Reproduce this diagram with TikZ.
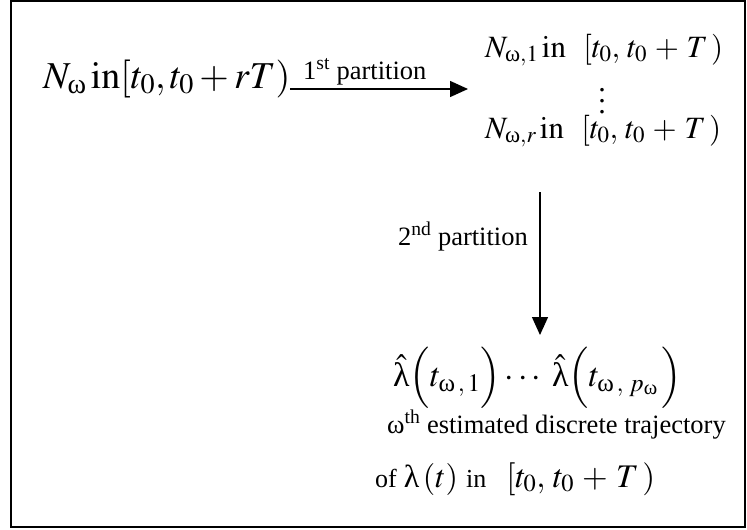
\documentclass[tikz,border=0pt]{standalone}
\usepackage{amsmath}
\usepackage{mathptmx}
\usepackage[no-math]{fontspec}
\setmainfont{Liberation Serif}
\usetikzlibrary{arrows.meta}
\newcommand{\gom}{\text{\normalfont ω}}
\newcommand{\glam}{\text{\normalfont λ}}
\newcommand{\tallvdots}{\vbox{\baselineskip=11pt\lineskiplimit=0pt\hbox{.}\hbox{.}\hbox{.}}}
\newcommand{\fsz}[1]{\fontsize{#1}{#1}\selectfont}
\tikzset{
  x=1pt, y=-1pt,
  mathbig/.style={inner sep=0pt, font=\fontsize{38}{42}\selectfont},
  mathmid/.style={inner sep=0pt, font=\fontsize{31}{35}\selectfont},
  mathlow/.style={inner sep=0pt, font=\fontsize{34}{38}\selectfont},
  lbl/.style={inner sep=0pt, font=\fontsize{26.5}{30}\selectfont},
  arr/.style={line width=1.4pt, -{Triangle[length=18pt,width=16pt]}},
}
\begin{document}
\begin{tikzpicture}
\useasboundingbox (0,0) rectangle (747,530);
\draw[line width=1.6pt] (11,1) rectangle (745,527);

\node[mathbig, anchor=base west] (src) at (43,88)
  {$N_{\gom}\,\mathrm{in}\!\left[t_0,t_0+rT\right)$};

\node[mathmid, anchor=base west] (r1) at (485,57)
  {$N_{\gom,1}\,\mathrm{in}\;\;\left[t_0,\,t_0\,+\,T\,\right)$};
\node[inner sep=0pt, font=\fsz{30}] (dots) at (602,101) {\tallvdots};
\node[mathmid, anchor=base west] (r2) at (485,138)
  {$N_{\gom,r}\,\mathrm{in}\;\;\left[t_0,\,t_0\,+\,T\,\right)$};

\coordinate (h1) at (290,89);
\coordinate (h2) at (468,89);
\draw[arr] (h1) -- (h2);
\node[lbl, anchor=base west] (l1) at (303,79) {1\textsuperscript{st} partition};

\coordinate (v1) at (540,192);
\coordinate (v2) at (540,335);
\draw[arr] (v1) -- (v2);
\node[lbl, anchor=base east] (l2) at (528,245) {2\textsuperscript{nd} partition};

\node[mathlow, anchor=base west] (est) at (393,386)
  {$\hat{\glam}\Bigl(t_{\gom\,,\,1}\Bigr)\cdots\;\hat{\glam}\Bigl(t_{\gom\,,\;p_{\gom}}\,\Bigr)$};
\node[lbl, anchor=base west] (traj) at (387,433) {ω\textsuperscript{th} estimated discrete trajectory};
\node[inner sep=0pt, anchor=base west] (of) at (375,487)
  {{\fsz{26}of}\hspace{7pt}{\fsz{32}$\glam\left(t\right)$}\hspace{8pt}{\fsz{26}in}\hspace{20pt}{\fsz{33}$\left[t_0,\,t_0\,+\,T\,\right)$}};
\end{tikzpicture}
\end{document}
